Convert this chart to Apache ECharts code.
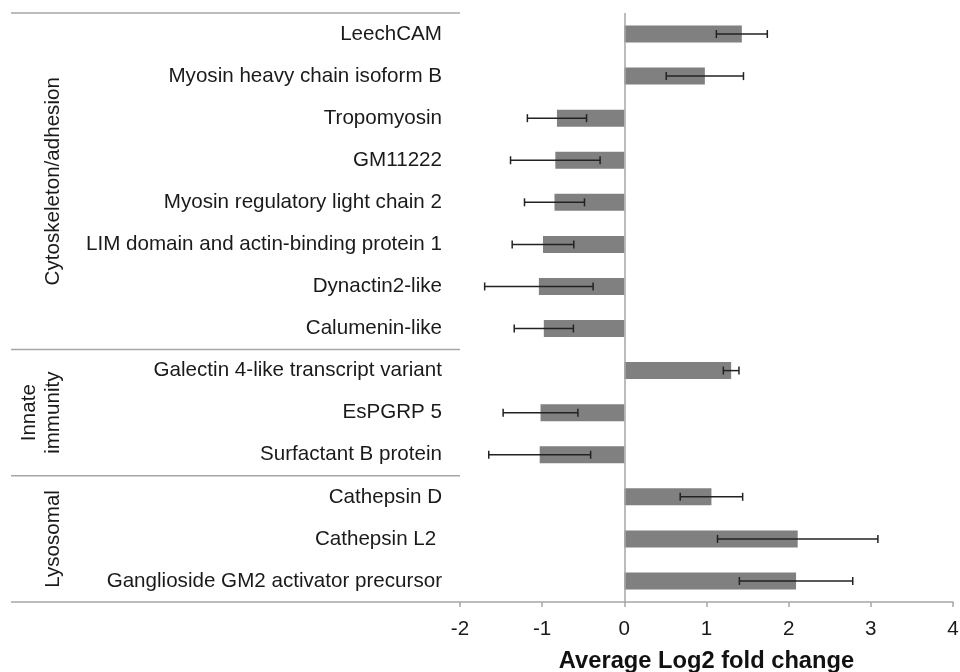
<!DOCTYPE html>
<html><head><meta charset="utf-8">
<script src="https://cdn.jsdelivr.net/npm/echarts@6/dist/echarts.min.js"></script>
<style>html,body{margin:0;padding:0;background:#fff}#c{width:960px;height:672px}</style>
</head><body><div id="c"></div>
<script>
const categories = [
  'LeechCAM',
  'Myosin heavy chain isoform B',
  'Tropomyosin',
  'GM11222',
  'Myosin regulatory light chain 2',
  'LIM domain and actin-binding protein 1',
  'Dynactin2-like',
  'Calumenin-like',
  'Galectin 4-like transcript variant',
  'EsPGRP 5',
  'Surfactant B protein',
  'Cathepsin D',
  'Cathepsin L2 ',
  'Ganglioside GM2 activator precursor'
];
const values = [1.43, 0.98, -0.82, -0.84, -0.85, -0.99, -1.04, -0.98, 1.30, -1.02, -1.03, 1.06, 2.11, 2.09];
const errors = [0.31, 0.47, 0.36, 0.545, 0.365, 0.375, 0.66, 0.36, 0.095, 0.455, 0.62, 0.38, 0.976, 0.69];
const groupNames = ['Cytoskeleton/adhesion', 'Innate\nimmunity', 'Lysosomal'];
const groupSizes = [8, 3, 3];
const xMin = -2, xMax = 4, xStep = 1;
const axisTitle = 'Average Log2 fold change';

const FONT = '"Liberation Sans", Arial, sans-serif';
const GRAY = '#a6a6a6';
const chart = echarts.init(document.getElementById('c'), null, {renderer: 'canvas'});

const errData = categories.map((c, i) => [i, values[i] - errors[i], values[i] + errors[i]]);

chart.setOption({
  animation: false,
  backgroundColor: '#fff',
  grid: {left: 460, right: 7, top: 13, bottom: 70, containLabel: false, outerBoundsMode: 'none'},
  xAxis: {
    type: 'value', min: xMin, max: xMax, interval: xStep,
    axisLine: {show: true, lineStyle: {color: GRAY, width: 1.5}},
    axisTick: {show: true, length: 5, lineStyle: {color: GRAY, width: 1.5}},
    axisLabel: {fontSize: 20.6, color: '#1a1a1a', margin: 17, fontFamily: FONT},
    splitLine: {show: false},
    name: axisTitle, nameLocation: 'middle', nameGap: 47,
    nameTextStyle: {fontSize: 23.7, fontWeight: 'bold', color: '#111', fontFamily: FONT}
  },
  yAxis: {
    type: 'category', data: categories, inverse: true,
    axisLine: {show: false}, axisTick: {show: false}, splitLine: {show: false},
    axisLabel: {fontSize: 20.6, color: '#1a1a1a', margin: 18, fontFamily: FONT}
  },
  series: [
    {
      type: 'bar', data: values, barWidth: 17,
      itemStyle: {color: '#808080'},
      markLine: {
        silent: true, symbol: 'none', label: {show: false},
        lineStyle: {color: GRAY, width: 1.5, type: 'solid'},
        data: [{xAxis: 0}]
      }
    },
    {
      type: 'custom', data: errData, encode: {y: 0, x: [1, 2]}, z: 5,
      renderItem: function (params, api) {
        const cat = api.value(0);
        const lo = api.coord([api.value(1), cat]);
        const hi = api.coord([api.value(2), cat]);
        const h = 4;
        const st = {stroke: '#222', lineWidth: 1.5};
        return {type: 'group', children: [
          {type: 'line', shape: {x1: lo[0], y1: lo[1], x2: hi[0], y2: hi[1]}, style: st},
          {type: 'line', shape: {x1: lo[0], y1: lo[1] - h, x2: lo[0], y2: lo[1] + h}, style: st},
          {type: 'line', shape: {x1: hi[0], y1: hi[1] - h, x2: hi[0], y2: hi[1] + h}, style: st}
        ]};
      }
    }
  ]
});

// group separators and group labels, positioned from the category axis
function drawGroups() {
  const c0 = chart.convertToPixel({yAxisIndex: 0}, 0);
  const c1 = chart.convertToPixel({yAxisIndex: 0}, 1);
  const band = c1 - c0;
  const xLeftEdge = chart.convertToPixel({xAxisIndex: 0}, xMin);
  const lineX0 = 11;
  const els = [];
  let start = 0;
  const boundaries = [c0 - band / 2];
  groupSizes.forEach((n, g) => {
    const top = c0 + (start - 0.5) * band;
    const bot = c0 + (start + n - 0.5) * band;
    boundaries.push(bot);
    els.push({
      type: 'text', x: 65, y: (top + bot) / 2, rotation: Math.PI / 2,
      style: {text: groupNames[g], font: '20.6px ' + FONT, fill: '#1a1a1a',
        align: 'center', verticalAlign: 'bottom', lineHeight: 24}
    });
    start += n;
  });
  boundaries.forEach(y => {
    els.push({type: 'line', shape: {x1: lineX0, y1: y, x2: xLeftEdge, y2: y},
      style: {stroke: GRAY, lineWidth: 1.5}});
  });
  chart.setOption({graphic: {elements: els}});
}
drawGroups();
</script>
</body></html>
